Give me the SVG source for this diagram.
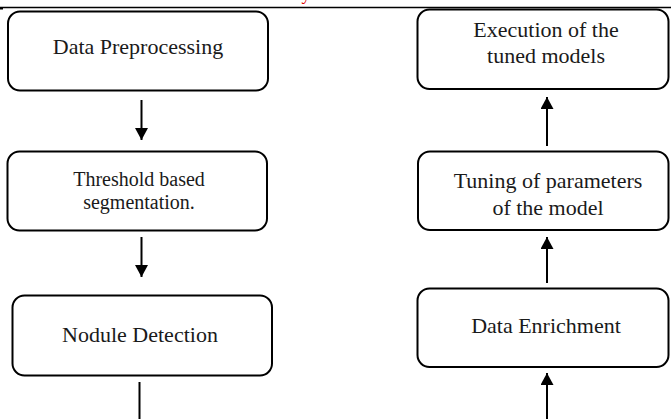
<svg xmlns="http://www.w3.org/2000/svg" width="671" height="419" viewBox="0 0 671 419">
  <style>
    .box { fill: #ffffff; stroke: #000000; stroke-width: 2; }
    .lbl { font-family: "Liberation Serif", "Times New Roman", serif; font-size: 22px; fill: #1a1a1a; text-anchor: middle; }
    .sm { font-size: 20px; }
    .wire { stroke: #000000; stroke-width: 2; fill: none; }
  </style>
  <defs>
    <marker id="head" viewBox="0 0 12 13" refX="12" refY="6.5" markerWidth="12" markerHeight="13" markerUnits="userSpaceOnUse" orient="auto">
      <path d="M0,0 L12,6.5 L0,13 Z" fill="#000000"/>
    </marker>
  </defs>
  <rect width="671" height="419" fill="#ffffff"/>

  <!-- page header rule and clipped heading glyph -->
  <g id="header">
    <line x1="0" y1="7.5" x2="671" y2="7.5" stroke="#000000" stroke-width="1.6"/>
    <rect x="0" y="7" width="3" height="2.5" fill="#000000"/>
    <text x="306" y="0" font-family="Liberation Serif, serif" font-size="18" fill="#e00000" text-anchor="middle">y</text>
  </g>

  <g id="connectors">
    <line class="wire" x1="141.5" y1="100" x2="141.5" y2="140" marker-end="url(#head)"/>
    <line class="wire" x1="141.5" y1="237" x2="141.5" y2="277" marker-end="url(#head)"/>
    <line class="wire" x1="139.5" y1="382" x2="139.5" y2="419"/>
    <line class="wire" x1="547" y1="419" x2="547" y2="373" marker-end="url(#head)"/>
    <line class="wire" x1="547" y1="283" x2="547" y2="237" marker-end="url(#head)"/>
    <line class="wire" x1="547" y1="146" x2="547" y2="97" marker-end="url(#head)"/>
  </g>

  <g id="data-preprocessing">
    <rect class="box" x="8" y="11.5" width="260" height="79" rx="12"/>
    <text class="lbl" x="138" y="54">Data Preprocessing</text>
  </g>

  <g id="threshold-segmentation">
    <rect class="box" x="7.5" y="151.5" width="259.5" height="79" rx="12"/>
    <text class="lbl sm" x="139" y="186">Threshold based</text>
    <text class="lbl sm" x="139" y="209">segmentation.</text>
  </g>

  <g id="nodule-detection">
    <rect class="box" x="12.5" y="295.5" width="259.5" height="80" rx="12"/>
    <text class="lbl" x="140" y="342">Nodule Detection</text>
  </g>

  <g id="data-enrichment">
    <rect class="box" x="417.5" y="288.5" width="251" height="78.5" rx="12"/>
    <text class="lbl" x="546" y="333">Data Enrichment</text>
  </g>

  <g id="parameter-tuning">
    <rect class="box" x="418" y="151.5" width="250.5" height="78.5" rx="12"/>
    <text class="lbl" x="548" y="188">Tuning of parameters</text>
    <text class="lbl" x="548" y="215">of the model</text>
  </g>

  <g id="tuned-execution">
    <rect class="box" x="417.5" y="9.5" width="251" height="79.5" rx="12"/>
    <text class="lbl" x="546" y="37">Execution of the</text>
    <text class="lbl" x="546" y="63">tuned models</text>
  </g>
</svg>
